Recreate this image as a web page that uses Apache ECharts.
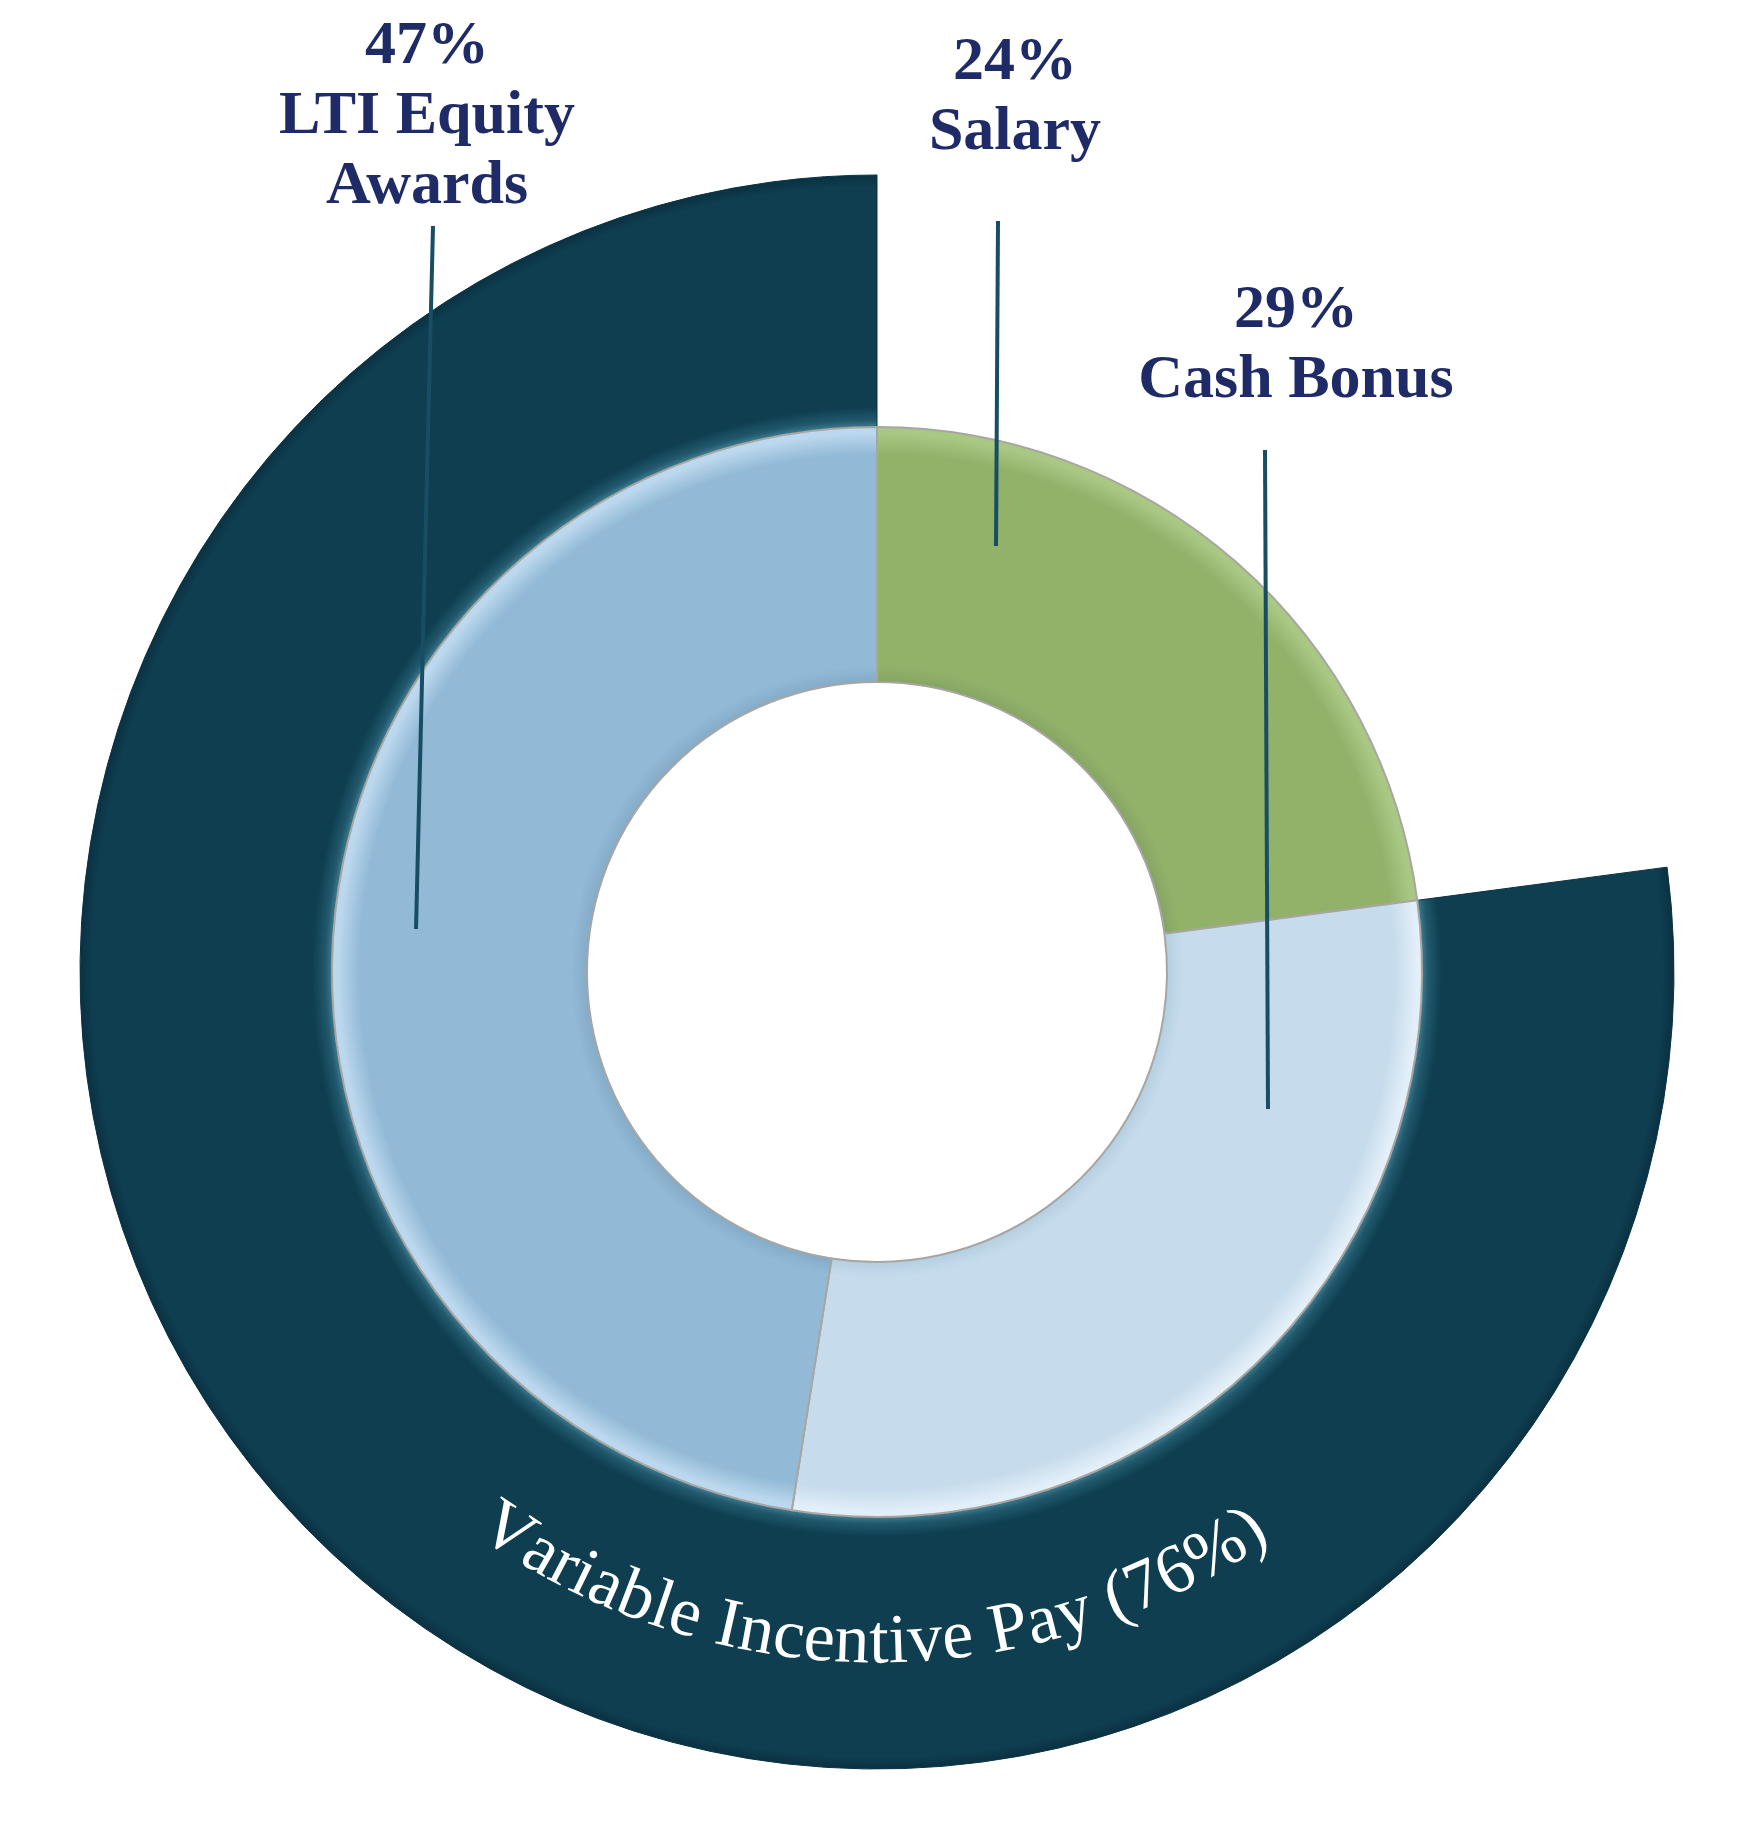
<!DOCTYPE html>
<html>
<head>
<meta charset="utf-8">
<script src="https://cdn.jsdelivr.net/npm/echarts@6/dist/echarts.min.js"></script>
<style>
html,body{margin:0;padding:0;background:#ffffff;}
#chart{width:1738px;height:1821px;}
</style>
</head>
<body>
<div id="chart"></div>
<script>
// ---- data ----
const categories = ['Salary', 'Cash Bonus', 'LTI Equity Awards'];
// shares as drawn in the picture (sector sizes)
const values = [22.9, 29.6, 47.5];
// percentages printed in the labels
const labelPercents = [24, 29, 47];
const labelNames = ['Salary', 'Cash Bonus', 'LTI Equity\nAwards'];
const outerNames = ['Fixed Pay', 'Variable Incentive Pay'];
const outerValues = [22.9, 77.1];
const curvedTitle = 'Variable Incentive Pay (76%)';

// ---- layout / style ----
const cx = 877, cy = 972;
const rHole = 290, rMid = 545, rOuter = 797;
const navy = '#1f2b66';
const teal = '#0e3e50';
const leaderColor = '#174e64';
const sliceColors = [
  ['#86a563', '#92b26a', '#a9c884'],
  ['#b4cfe2', '#c6dcec', '#e2eef8'],
  ['#84abc8', '#92bad6', '#bcd8ee']
];
const labelLayoutPos = [
  { x: 1015, y: 28, line: [[998, 221], [996, 546]] },
  { x: 1296, y: 276, line: [[1265, 450], [1268, 1109]] },
  { x: 427, y: 12, line: [[433, 226], [416, 929]] }
];

function innerGradient(c) {
  return {
    type: 'radial', x: cx, y: cy, r: rMid, global: true,
    colorStops: [
      { offset: rHole / rMid, color: c[0] },
      { offset: rHole / rMid + 0.03, color: c[1] },
      { offset: 0.95, color: c[1] },
      { offset: 0.99, color: c[2] },
      { offset: 1, color: c[2] }
    ]
  };
}
const outerGradient = {
  type: 'radial', x: cx, y: cy, r: rOuter, global: true,
  colorStops: [
    { offset: rMid / rOuter, color: '#3f7c91' },
    { offset: rMid / rOuter + 0.008, color: '#22596d' },
    { offset: rMid / rOuter + 0.025, color: teal },
    { offset: 0.985, color: teal },
    { offset: 1, color: '#0a3142' }
  ]
};

// ---- curved text along the outer ring ----
const textFont = 'normal 70px "Liberation Serif", "Times New Roman", serif';
const measureCtx = document.createElement('canvas').getContext('2d');
measureCtx.font = textFont;
const chars = Array.from(curvedTitle);
const widths = chars.map(ch => measureCtx.measureText(ch).width);
const totalW = widths.reduce((a, b) => a + b, 0);
const thetaStart = 125.6, thetaEnd = 55.2, rText = 672;
const graphics = [];
let acc = 0;
chars.forEach((ch, i) => {
  const frac = (acc + widths[i] / 2) / totalW;
  acc += widths[i];
  if (ch === ' ') return;
  const th = thetaStart - frac * (thetaStart - thetaEnd);
  const rad = th * Math.PI / 180;
  graphics.push({
    type: 'text',
    x: cx + rText * Math.cos(rad),
    y: cy + rText * Math.sin(rad),
    rotation: (90 - th) * Math.PI / 180,
    z: 100,
    silent: true,
    style: {
      text: ch,
      font: textFont,
      fill: '#ffffff',
      align: 'center',
      verticalAlign: 'middle',
      textAlign: 'center',
      textVerticalAlign: 'middle'
    }
  });
});
// leader lines drawn above the rings
labelLayoutPos.forEach(L => {
  graphics.push({
    type: 'line',
    z: 90,
    silent: true,
    shape: { x1: L.line[0][0], y1: L.line[0][1], x2: L.line[1][0], y2: L.line[1][1] },
    style: { stroke: leaderColor, lineWidth: 4 }
  });
});

const chart = echarts.init(document.getElementById('chart'), null, { renderer: 'canvas' });
chart.setOption({
  backgroundColor: '#ffffff',
  animation: false,
  series: [
    {
      type: 'pie',
      name: 'outer',
      center: [cx, cy],
      radius: [rMid, rOuter],
      startAngle: 90,
      clockwise: true,
      silent: true,
      z: 1,
      label: { show: false },
      labelLine: { show: false },
      data: outerValues.map((v, i) => ({
        name: outerNames[i],
        value: v,
        itemStyle: i === 0 ? { color: 'rgba(0,0,0,0)' } : { color: outerGradient, borderColor: '#0a3344', borderWidth: 1 }
      }))
    },
    {
      type: 'pie',
      name: 'inner',
      center: [cx, cy],
      radius: [rHole, rMid],
      startAngle: 90,
      clockwise: true,
      silent: true,
      z: 2,
      avoidLabelOverlap: false,
      itemStyle: { borderColor: '#a8a6a3', borderWidth: 2 },
      label: {
        show: true,
        formatter: p => labelPercents[p.dataIndex] + '%\n' + labelNames[p.dataIndex],
        fontFamily: '"Liberation Serif", "Times New Roman", serif',
        fontWeight: 'bold',
        fontSize: 62,
        lineHeight: 70,
        color: navy,
        align: 'center'
      },
      labelLine: { show: false },
      labelLayout: function (params) {
        const L = labelLayoutPos[params.dataIndex];
        return { x: L.x, y: L.y, align: 'center', verticalAlign: 'top' };
      },
      data: values.map((v, i) => ({
        name: categories[i],
        value: v,
        itemStyle: { color: innerGradient(sliceColors[i]) }
      }))
    }
  ],
  graphic: graphics
});
</script>
</body>
</html>
